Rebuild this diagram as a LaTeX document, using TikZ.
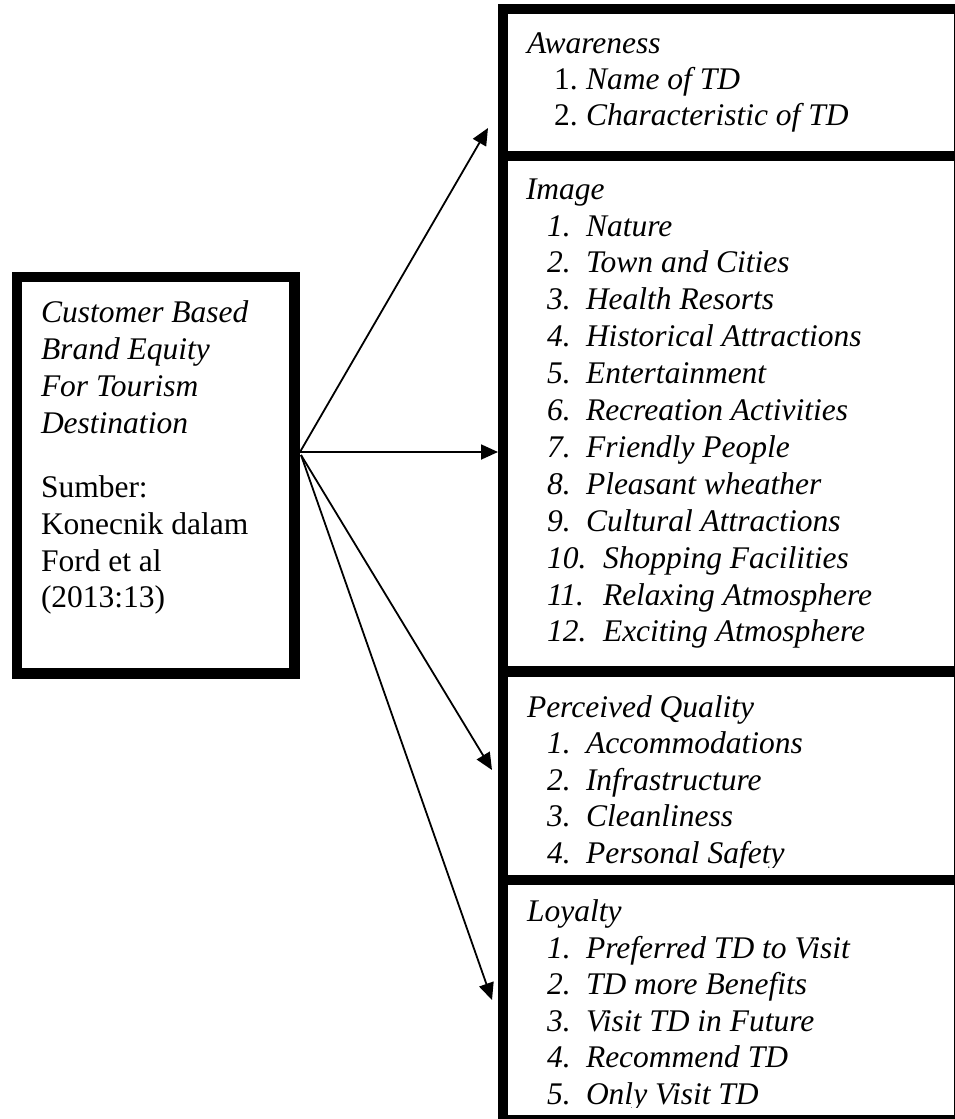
\documentclass[tikz,border=0pt]{standalone}
\usepackage{fontspec}
\setmainfont{Liberation Serif}
\usetikzlibrary{arrows.meta}
\begin{document}
\begin{tikzpicture}[x=1pt,y=-1pt,
  box/.style={draw, line width=10.5pt, rectangle, outer sep=0pt, inner sep=0pt, anchor=north west},
  txt/.style={inner sep=0pt, outer sep=0pt, anchor=base west, font=\fontsize{31.5}{37}\selectfont\itshape},
  rtxt/.style={txt, font=\fontsize{31.5}{37}\selectfont\upshape},
  arr/.style={-{Triangle[length=17pt,width=15pt]}, line width=1.8pt}]
\useasboundingbox (0,0) rectangle (955,1119);
\clip (0,0) rectangle (955,1119);
\fill[white] (0,0) rectangle (955,1119);

% left box text
\node[txt]  (c1) at (41,322) {Customer Based};
\node[txt]  (c2) at (41,359) {Brand Equity};
\node[txt]  (c3) at (41,396) {For Tourism};
\node[txt]  (c4) at (41,433) {Destination};
\node[rtxt] (s1) at (41,497) {Sumber:};
\node[rtxt] (s2) at (41,534) {Konecnik dalam};
\node[rtxt] (s3) at (41,571) {Ford et al};
\node[rtxt] (s4) at (41,607) {(2013:13)};

% Awareness
\node[txt]  (ah) at (527,53) {Awareness};
\node[rtxt] (an1) at (554,89) {1.};
\node[txt]  (at1) at (586,89) {Name of TD};
\node[rtxt] (an2) at (554,125) {2.};
\node[txt]  (at2) at (586,125) {Characteristic of TD};

% Image
\node[txt] (ih) at (526,199) {Image};
\node[txt] (in1) at (547,236.0) {1.};  \node[txt] (it1) at (586,236.0) {Nature};
\node[txt] (in2) at (547,272.9) {2.};  \node[txt] (it2) at (586,272.9) {Town and Cities};
\node[txt] (in3) at (547,309.8) {3.};  \node[txt] (it3) at (586,309.8) {Health Resorts};
\node[txt] (in4) at (547,346.7) {4.};  \node[txt] (it4) at (586,346.7) {Historical Attractions};
\node[txt] (in5) at (547,383.6) {5.};  \node[txt] (it5) at (586,383.6) {Entertainment};
\node[txt] (in6) at (547,420.5) {6.};  \node[txt] (it6) at (586,420.5) {Recreation Activities};
\node[txt] (in7) at (547,457.4) {7.};  \node[txt] (it7) at (586,457.4) {Friendly People};
\node[txt] (in8) at (547,494.3) {8.};  \node[txt] (it8) at (586,494.3) {Pleasant wheather};
\node[txt] (in9) at (547,531.2) {9.};  \node[txt] (it9) at (586,531.2) {Cultural Attractions};
\node[txt] (in10) at (547,568.1) {10.}; \node[txt] (it10) at (603,568.1) {Shopping Facilities};
\node[txt] (in11) at (547,605.0) {11.}; \node[txt] (it11) at (603,605.0) {Relaxing Atmosphere};
\node[txt] (in12) at (547,641.9) {12.}; \node[txt] (it12) at (603,641.9) {Exciting Atmosphere};

% Perceived Quality
\begin{scope}
\clip (508,676) rectangle (955,867);
\node[txt] (qh) at (527,717) {Perceived Quality};
\node[txt] (qn1) at (547,753.6) {1.}; \node[txt] (qt1) at (586,753.6) {Accommodations};
\node[txt] (qn2) at (547,790.2) {2.}; \node[txt] (qt2) at (586,790.2) {Infrastructure};
\node[txt] (qn3) at (547,826.8) {3.}; \node[txt] (qt3) at (586,826.8) {Cleanliness};
\node[txt] (qn4) at (547,863.4) {4.}; \node[txt] (qt4) at (586,863.4) {Personal Safety};
\end{scope}

% Loyalty
\begin{scope}
\clip (508,885) rectangle (955,1107.5);
\node[txt] (lh) at (527,921) {Loyalty};
\node[txt] (ln1) at (547,958.0) {1.}; \node[txt] (lt1) at (586,958.0) {Preferred TD to Visit};
\node[txt] (ln2) at (547,994.6) {2.}; \node[txt] (lt2) at (586,994.6) {TD more Benefits};
\node[txt] (ln3) at (547,1031.2) {3.}; \node[txt] (lt3) at (586,1031.2) {Visit TD in Future};
\node[txt] (ln4) at (547,1067.8) {4.}; \node[txt] (lt4) at (586,1067.8) {Recommend TD};
\node[txt] (ln5) at (547,1104.4) {5.}; \node[txt] (lt5) at (586,1104.4) {Only Visit TD};
\end{scope}

% boxes
\node[box, minimum width=277.5pt, minimum height=396.5pt] (cbbe) at (17,277) {};
\node[box, minimum width=456pt, minimum height=147pt]   (aware)   at (503,9) {};
\node[box, minimum width=456pt, minimum height=515.5pt] (image)   at (503,156) {};
\node[box, minimum width=456pt, minimum height=208.5pt] (quality) at (503,671.5) {};
\node[box, minimum width=456pt, minimum height=240pt]   (loyal)   at (503,880) {};

% connectors
\coordinate (src) at (300,452);
\coordinate (src2) at (301,455);
\coordinate (tA) at (488,128);
\coordinate (tI) at (498,452);
\coordinate (tQ) at (492,770);
\coordinate (tL) at (492,1000);
\draw[arr] (src) -- (tA);
\draw[arr] (src) -- (tI);
\draw[arr] (src2) -- (tQ);
\draw[arr] (src2) -- (tL);
\end{tikzpicture}
\end{document}
